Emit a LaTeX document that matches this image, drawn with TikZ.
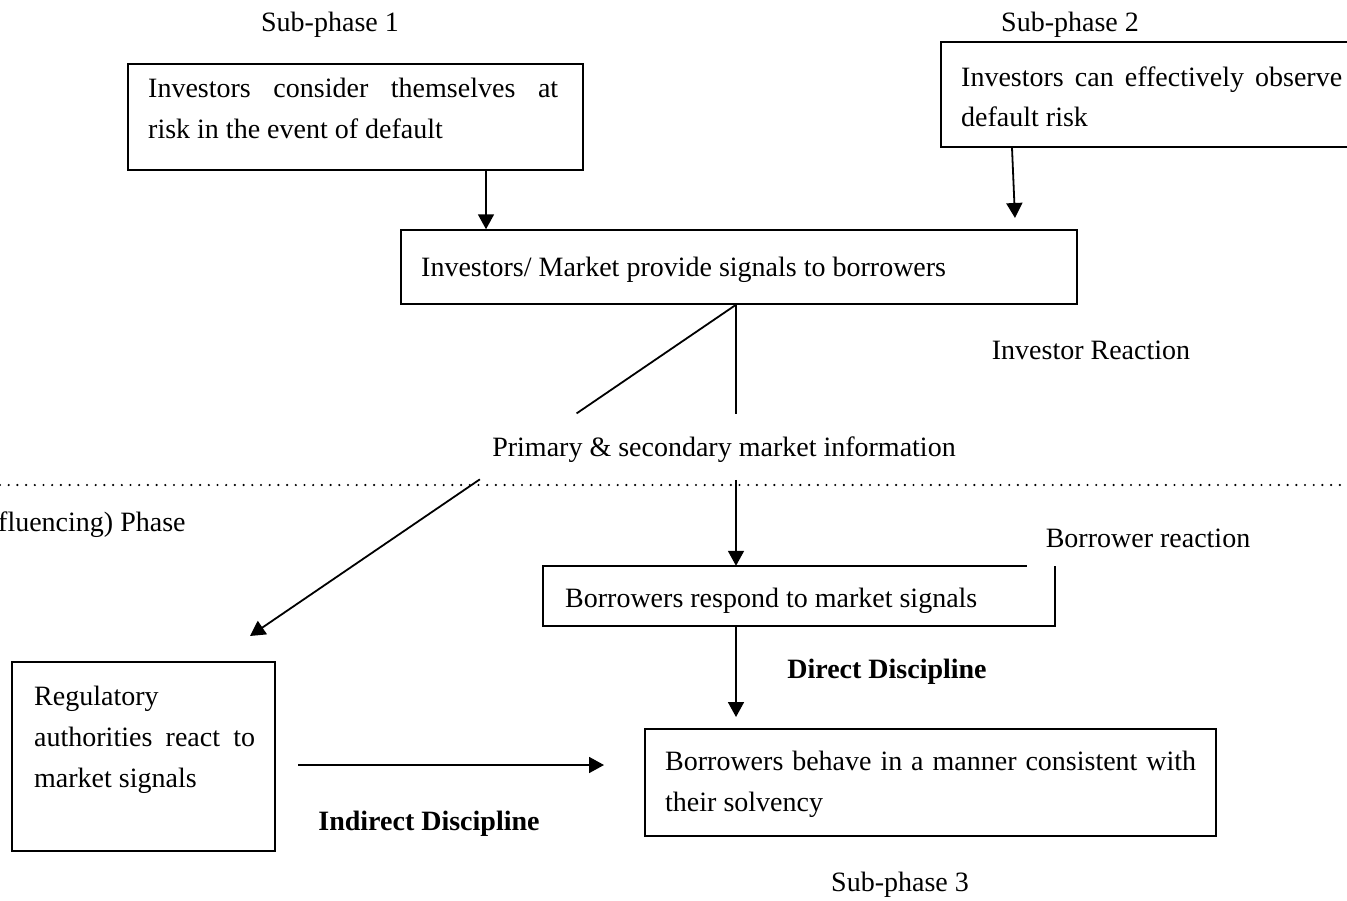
\documentclass[tikz,border=0pt]{standalone}
\usepackage{fontspec}
\setmainfont{Liberation Serif}
\usetikzlibrary{arrows.meta,calc}
\hyphenpenalty=10000
\exhyphenpenalty=10000
\begin{document}
\begin{tikzpicture}[x=1pt,y=-1pt,
  every node/.style={font=\fontsize{28}{41}\selectfont, inner sep=0pt},
  frame/.style={draw, line width=1.5pt},
  txt/.style={anchor=base west, align=justify},
  lbl/.style={anchor=base},
  arr/.style={line width=1.8pt, -{Triangle[length=15pt,width=16pt]}},
  ln/.style={line width=1.8pt}]
\useasboundingbox (0,0) rectangle (1347,900);
\clip (0,0) rectangle (1347,900);

% phase separator
\draw[line width=2.4pt, line cap=round, dash pattern=on 0pt off 8.7pt] (0,485) -- (1347,485);

% boxes
\node[frame, minimum width=455, minimum height=106] (b1) at (355.5,117) {};
\node[frame, minimum width=424, minimum height=105] (b2) at (1153,94.5) {};
\node[frame, minimum width=676, minimum height=74] (b3) at (739,267) {};
\node[minimum width=512, minimum height=60] (b4) at (799,596) {};
\draw[line width=1.5pt] ([xshift=484]b4.north west) -- (b4.north west) -- (b4.south west) -- (b4.south east) -- (b4.north east);
\node[frame, minimum width=571, minimum height=107] (b5) at (930.5,782.5) {};
\node[frame, minimum width=263, minimum height=189] (b6) at (143.5,756.5) {};

% box texts
\node[txt, text width=410] (b1t) at (148,97) {Investors consider themselves at\linebreak risk in the event of default};
\node[txt, text width=381, font=\fontsize{28}{40}\selectfont] (b2t) at (961,86) {Investors can effectively observe\linebreak default risk};
\node[txt] (b3t) at (421,276) {Investors/ Market provide signals to borrowers};
\node[txt] (b4t) at (565,607) {Borrowers respond to market signals};
\node[txt, text width=531] (b5t) at (665,770) {Borrowers behave in a manner consistent with\linebreak their solvency};
\node[txt, text width=221] (b6t) at (34,705) {Regulatory\\ authorities react to\linebreak market signals};

% labels
\node[lbl] (sp1) at (330,31) {Sub-phase 1};
\node[lbl] (sp2) at (1070,31) {Sub-phase 2};
\node[lbl] (ir) at (1091,359) {Investor Reaction};
\node[lbl] (pm) at (724,456) {Primary \& secondary market information};
\node[anchor=base west] (ph) at (-2,531) {fluencing) Phase};
\node[lbl] (br) at (1148,547) {Borrower reaction};
\node[lbl, font=\fontsize{28}{41}\selectfont\bfseries] (dd) at (887,678) {Direct Discipline};
\node[lbl, font=\fontsize{28}{41}\selectfont\bfseries] (id) at (429,830) {Indirect Discipline};
\node[lbl] (sp3) at (900,891) {Sub-phase 3};

% connectors
\draw[arr] ([xshift=130.5]b1.south) -- ([xshift=-253]b3.north);
\coordinate (p2) at (1015,218);
\draw[arr] ([xshift=-141]b2.south) -- (p2);

\coordinate (s) at ([xshift=-3]b3.south);
\coordinate (t) at (250,636);
\draw[ln] (s) -- ($(s)!0.328!(t)$);
\draw[arr] ($(s)!0.527!(t)$) -- (t);
\draw[ln] (s) -- ++(0,109);
\draw[arr] ($(s)+(0,175)$) -- ([xshift=-63]b4.north);

\coordinate (q5) at (736,717);
\draw[arr] ([xshift=-63]b4.south) -- (q5);

\coordinate (r0) at (298,765);
\coordinate (r1) at (604,765);
\draw[arr] (r0) -- (r1);
\end{tikzpicture}
\end{document}
